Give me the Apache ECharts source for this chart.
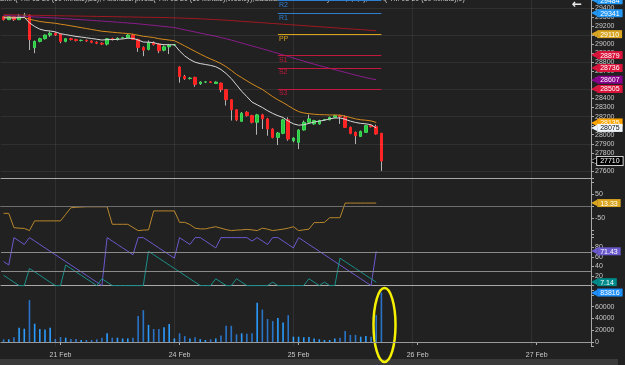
<!DOCTYPE html>
<html>
<head>
<meta charset="utf-8">
<script src="https://cdn.jsdelivr.net/npm/echarts@6/dist/echarts.min.js"></script>
<style>
html, body { margin: 0; padding: 0; background: #212121; }
#chart { width: 625px; height: 365px; }
</style>
</head>
<body>
<div id="chart"></div>
<script>
var FONT = 'Arial, "Liberation Sans", sans-serif';

// x axis: one slot per 60 minute bar, 23 bars per session
var SLOT_COUNT = 114;
var daySlots = [11, 34, 57, 80, 103];
var dayLabels = ['21 Feb', '24 Feb', '25 Feb', '26 Feb', '27 Feb'];
var sessionLineSlots = [10, 33, 56, 79, 102];

// candles (open, close, low, high)
var opens = [29303, 29270, 29303, 29270, 29315, 29320, 28960, 29030, 29060, 29100,
  29120, 29110, 29030, 29060, 29050, 29040, 29042, 29035, 29020, 29010,
  29000, 29060, 29050, 29070, 29070, 29100, 29052, 28963, 28941, 29015,
  29000, 28933, 28970, 28990, 28748, 28644, 28620, 28633, 28563, 28581,
  28583, 28565, 28570, 28497, 28386, 28275, 28148, 28248, 28211, 28137,
  28219, 28175, 28063, 27970, 28015, 28164, 27933, 27915, 28052, 28137,
  28119, 28119, 28164, 28164, 28192, 28211, 28192, 28081, 28026, 27981,
  28026, 28100, 28089, 28015];
var closes = [29270, 29303, 29270, 29310, 29320, 29050, 29030, 29060, 29100, 29120,
  29100, 29030, 29060, 29050, 29040, 29042, 29035, 29020, 29010, 29000,
  29060, 29050, 29065, 29072, 29100, 29052, 28963, 28933, 29015, 28995,
  28926, 28970, 28989, 28993, 28640, 28619, 28625, 28556, 28581, 28583,
  28577, 28581, 28497, 28386, 28275, 28164, 28237, 28211, 28137, 28219,
  28175, 28063, 27970, 28019, 28164, 27952, 27963, 28052, 28137, 28175,
  28156, 28156, 28168, 28192, 28211, 28200, 28081, 28015, 27989, 28037,
  28100, 28089, 28008, 27710];
var lows = [29260, 29265, 29255, 29265, 29300, 28935, 28900, 29020, 29050, 29080,
  29090, 29010, 29020, 29040, 29030, 29030, 29025, 29010, 29000, 28990,
  28985, 29040, 29040, 29060, 29065, 29045, 28915, 28867, 28930, 28985,
  28900, 28920, 28890, 28985, 28575, 28605, 28610, 28530, 28550, 28570,
  28570, 28560, 28470, 28322, 28156, 28150, 28140, 28200, 28125, 28000,
  28063, 27989, 27960, 27886, 28005, 27933, 27915, 27841, 28045, 28130,
  28110, 28110, 28155, 28160, 28185, 28119, 28075, 28005, 27897, 27975,
  28020, 28080, 28000, 27600];
var highs = [29310, 29308, 29308, 29333, 29345, 29325, 29040, 29070, 29105, 29140,
  29130, 29115, 29065, 29070, 29060, 29050, 29050, 29040, 29030, 29020,
  29065, 29070, 29075, 29080, 29110, 29110, 29060, 28975, 29040, 29030,
  29010, 28985, 29000, 29000, 28755, 28660, 28635, 28640, 28590, 28590,
  28590, 28590, 28575, 28500, 28390, 28280, 28250, 28260, 28220, 28230,
  28230, 28185, 28070, 28030, 28175, 28192, 27970, 28060, 28156, 28222,
  28165, 28165, 28175, 28200, 28220, 28220, 28211, 28090, 28035, 28045,
  28110, 28111, 28111, 28020];
var volumes = [4600, 4600, 8000, 24000, 22500, 71000, 31000, 22000, 21000, 24000,
  5000, 8500, 7300, 5000, 5000, 3400, 3400, 3400, 4600, 7300,
  14700, 7300, 7300, 6000, 6000, 7300, 44000, 54000, 29000, 22000,
  22000, 25000, 30500, 6000, 14700, 10000, 6000, 8000, 5000, 3400,
  4600, 6000, 11000, 27500, 27500, 13000, 14700, 14000, 15000, 66500,
  55000, 39000, 35500, 40500, 33000, 45500, 9000, 9000, 8000, 8500,
  6000, 4600, 3400, 3400, 6000, 7300, 18500, 12000, 12000, 9000,
  10000, 9000, 45500, 83816];

// indicator lines (last bar not yet calculated)
var ema9 = [29290, 29290, 29288, 29292, 29296, 29235, 29195, 29165, 29150, 29145,
  29135, 29115, 29105, 29095, 29085, 29078, 29070, 29062, 29054, 29045,
  29050, 29050, 29053, 29057, 29066, 29063, 29045, 29023, 29021, 29016,
  29000, 28994, 28993, 28993, 28925, 28870, 28830, 28800, 28785, 28775,
  28765, 28750, 28720, 28675, 28620, 28550, 28480, 28420, 28360, 28330,
  28300, 28265, 28235, 28210, 28190, 28150, 28120, 28105, 28110, 28125,
  28140, 28150, 28160, 28175, 28184, 28185, 28170, 28150, 28135, 28125,
  28120, 28110, 28075, null];
var ema21 = [29300, 29298, 29295, 29293, 29292, 29275, 29262, 29250, 29242, 29236,
  29230, 29220, 29212, 29202, 29192, 29182, 29172, 29162, 29152, 29142,
  29137, 29131, 29126, 29121, 29117, 29110, 29098, 29086, 29080, 29072,
  29060, 29052, 29045, 29038, 29010, 28980, 28950, 28920, 28890, 28862,
  28836, 28812, 28785, 28750, 28710, 28665, 28630, 28595, 28560, 28530,
  28500, 28460, 28420, 28385, 28355, 28320, 28285, 28255, 28240, 28232,
  28226, 28222, 28220, 28218, 28218, 28216, 28205, 28190, 28175, 28165,
  28160, 28152, 28135, null];
var maRed = [29325, 29324, 29323, 29322, 29321, 29319, 29318, 29317, 29316, 29315,
  29314, 29313, 29312, 29311, 29310, 29309, 29308, 29307, 29306, 29305,
  29304, 29303, 29302, 29301, 29300, 29299, 29298, 29297, 29296, 29295,
  29294, 29293, 29292, 29290, 29288, 29286, 29284, 29282, 29279, 29276,
  29273, 29270, 29267, 29264, 29260, 29256, 29252, 29248, 29244, 29240,
  29236, 29232, 29228, 29224, 29220, 29216, 29212, 29208, 29204, 29200,
  29196, 29192, 29188, 29184, 29180, 29176, 29172, 29168, 29164, 29160,
  29156, 29152, 29148, null];
var maPurple = [29315, 29313, 29311, 29309, 29307, 29304, 29300, 29297, 29294, 29291,
  29288, 29284, 29280, 29277, 29273, 29270, 29266, 29262, 29258, 29254,
  29250, 29246, 29242, 29238, 29233, 29229, 29224, 29218, 29213, 29207,
  29201, 29195, 29189, 29183, 29170, 29158, 29146, 29134, 29122, 29110,
  29098, 29086, 29073, 29059, 29044, 29028, 29012, 28996, 28980, 28964,
  28948, 28932, 28915, 28898, 28881, 28864, 28846, 28829, 28812, 28795,
  28779, 28763, 28748, 28733, 28718, 28703, 28688, 28673, 28658, 28644,
  28630, 28618, 28607, null];

// weekly fibonacci pivots, drawn over the last session
var pivotNames = ['R2', 'R1', 'PP', 'S1', 'S2', 'S3'];
var pivotValues = [29484, 29341, 29110, 28879, 28736, 28505];
var pivotColors = ['#2f7fd0', '#2f7fd0', '#d9a21b', '#c0183e', '#c0183e', '#c0183e'];
var pivotStartSlot = 53;
var pivotEndSlot = 73;

// second panel oscillator
var oscValues = [-29, -29, -88, -90, -91, -100, -60, -60, -60, -60,
  -60, -60, -33, -6, -4, -3, -2, -2, -2, -2,
  -2, -74, -74, -74, -74, -87, -100, -98, -97, -19,
  -19, -19, -19, -19, -66, -66, -75, -90, -93, -93,
  -88, -84, -90, -96, -100, -98, -97, -95, -97, -100,
  -90, -94, -100, -97, -94, -90, -84, -100, -97, -94,
  -67, -67, -66, -47, -47, -47, 13.33, 13.33, 13.33, 13.33,
  13.33, 13.33, 13.33, null];

// aroon (14)
var aroonDown = [50, 42.86, 100, 92.86, 85.71, 100, 92.86, 85.71, 78.57, 71.43,
  64.29, 57.14, 50, 42.86, 35.71, 28.57, 21.43, 14.29, 7.14, 0,
  100, 92.86, 85.71, 78.57, 71.43, 64.29, 100, 100, 92.86, 85.71,
  78.57, 71.43, 64.29, 57.14, 100, 92.86, 85.71, 100, 100, 92.86,
  85.71, 78.57, 100, 100, 100, 100, 100, 100, 92.86, 100,
  92.86, 85.71, 100, 100, 92.86, 85.71, 78.57, 100, 92.86, 85.71,
  78.57, 71.43, 64.29, 57.14, 50, 42.86, 35.71, 28.57, 21.43, 14.29,
  7.14, 0, 71.43, null];
var aroonUp = [21.43, 14.29, 7.14, 0, 0, 35.71, 28.57, 21.43, 14.29, 7.14,
  0, 0, 42.86, 35.71, 28.57, 21.43, 14.29, 7.14, 0, 14.29,
  7.14, 0, 0, 0, 0, 0, 0, 0, 71.43, 64.29,
  57.14, 50, 42.86, 35.71, 28.57, 21.43, 14.29, 7.14, 0, 0,
  0, 14.29, 7.14, 0, 0, 14.29, 7.14, 0, 0, 0,
  0, 0, 7.14, 0, 0, 0, 0, 0, 0, 14.29,
  7.14, 0, 7.14, 0, 0, 57.14, 50, 42.86, 35.71, 28.57,
  21.43, 14.29, 7.14, null];

// value tags on the right axis
var mainTagValues = [29484, 29341, 29110, 28879, 28736, 28607, 28505, 28135, 28075, 27710];
var mainTagBg = ['#2196f3', '#2196f3', '#daa520', '#dc143c', '#dc143c', '#8b008b', '#dc143c', '#ffa500', '#f0f6fb', '#000000'];
var mainTagFg = ['#fff', '#fff', '#fff', '#fff', '#fff', '#fff', '#fff', '#fff', '#111', '#fff'];
var faintPriceLines = [29400, 29100, 28800, 28500, 28200, 27900, 27600];

var categories = [];
for (var s = 0; s < SLOT_COUNT; s++) {
  var k = daySlots.indexOf(s);
  categories.push(k >= 0 ? dayLabels[k] : ' ' + s);
}

var bodies = [], wicks = [], volumeItems = [];
for (var i = 0; i < opens.length; i++) {
  var o = opens[i], c = closes[i];
  bodies.push([o, c, Math.min(o, c), Math.max(o, c)]);
  wicks.push([(o + c) / 2, (o + c) / 2, lows[i], highs[i]]);
  volumeItems.push({ value: volumes[i], itemStyle: { color: c >= o ? '#2b9cff' : '#2a74c8' } });
}

// right-axis price tag: a small left pointer plus a coloured box
function tag(value, text, bg, fg, border) {
  return {
    yAxis: value,
    lineStyle: { color: 'rgba(0,0,0,0)', width: 0 },
    label: {
      show: true, position: 'end', distance: 0, opacity: 1,
      formatter: '{a|\u25C0}{b|' + text + '}',
      rich: {
        a: { color: bg, fontSize: 8, fontFamily: '"DejaVu Sans"', lineHeight: 9,
          textBorderColor: border || 'transparent', textBorderWidth: border ? 1 : 0 },
        b: { backgroundColor: bg, color: fg, borderColor: border || bg, borderWidth: border ? 1 : 0,
          padding: [1, 3, 0, 3], fontSize: 7, lineHeight: 8, fontFamily: FONT }
      }
    }
  };
}

var faint = { color: 'rgba(255,255,255,0.07)', width: 1, type: 'solid' };
var gridMarks = [];
faintPriceLines.forEach(function (p) { gridMarks.push({ yAxis: p, lineStyle: faint }); });
sessionLineSlots.forEach(function (sl) { gridMarks.push({ xAxis: sl, lineStyle: faint }); });
function sessionMarks() {
  return sessionLineSlots.map(function (sl) { return { xAxis: sl, lineStyle: faint }; });
}

var mainTags = mainTagValues.map(function (v, j) {
  return tag(v, String(v), mainTagBg[j], mainTagFg[j], j === 9 ? '#d0d0d0' : null);
});
var pivotMarks = pivotValues.map(function (v, j) {
  return [
    { coord: [pivotStartSlot, v], name: pivotNames[j],
      lineStyle: { color: pivotColors[j], width: 1, type: 'solid', opacity: 1 },
      label: { show: true, position: 'insideStartBottom', formatter: '{b}', color: pivotColors[j],
        fontSize: 7, fontFamily: FONT, distance: 1 } },
    { coord: [pivotEndSlot, v] }
  ];
});

var baseMark = { symbol: ['none', 'none'], silent: true, animation: false, label: { show: false } };
function mark(data) { return Object.assign({}, baseMark, { data: data }); }

var grids = [
  { left: 1, width: 590, top: 0, height: 178 },
  { left: 1, width: 590, top: 178, height: 56 },
  { left: 1, width: 590, top: 234, height: 56 },
  { left: 1, width: 590, top: 290, height: 56 }
];
var axisGray = '#a8a8a8';
var xAxes = grids.map(function (g, gi) {
  var last = gi === 3;
  return {
    type: 'category', gridIndex: gi, data: categories, boundaryGap: true,
    axisLine: { show: true, lineStyle: { color: axisGray, width: 1 } },
    axisTick: { show: last, alignWithLabel: true, length: 3, lineStyle: { color: axisGray },
      interval: function (idx) { return daySlots.indexOf(idx) >= 0; } },
    axisLabel: { show: last, color: '#c8c8c8', fontSize: 7, fontFamily: FONT, margin: 6,
      interval: function (idx) { return daySlots.indexOf(idx) >= 0; } },
    splitLine: { show: false }
  };
});
function yAxis(gi, min, max, splitNumber, keep) {
  return {
    type: 'value', gridIndex: gi, position: 'right', min: min, max: max, splitNumber: splitNumber,
    axisLine: { show: true, lineStyle: { color: axisGray, width: 1 } },
    axisTick: { show: true, length: 3, lineStyle: { color: axisGray } },
    axisLabel: { show: true, color: '#c8c8c8', fontSize: 7, fontFamily: FONT, margin: 4,
      formatter: function (v) { return keep(v) ? String(v) : ''; } },
    splitLine: { show: false }
  };
}
var yAxes = [
  yAxis(0, 27522, 29487, 20, function (v) { return v % 100 === 0; }),
  yAxis(1, -114, 116.5, 5, function (v) { return v === 50 || v === -50; }),
  yAxis(2, -9.2, 107.5, 5, function (v) { return v === 20 || v === 40 || v === 60 || v === 80; }),
  yAxis(3, -6780, 88140, 5, function (v) { return v % 20000 === 0 && v >= 0 && v <= 60000; })
];

function lineSeries(name, data, color, gi, width, markData) {
  var sr = {
    name: name, type: 'line', data: data, xAxisIndex: gi, yAxisIndex: gi,
    showSymbol: false, symbol: 'none', animation: false, silent: true,
    lineStyle: { color: color, width: width || 1 }
  };
  if (markData) sr.markLine = mark(markData);
  return sr;
}

var option = {
  backgroundColor: '#212121',
  animation: false,
  grid: grids,
  xAxis: xAxes,
  yAxis: yAxes,
  series: [
    { name: 'wick', type: 'candlestick', data: wicks, xAxisIndex: 0, yAxisIndex: 0, barWidth: 1,
      silent: true, itemStyle: { color: '#b4b4b4', color0: '#b4b4b4', borderColor: '#b4b4b4', borderColor0: '#b4b4b4', borderWidth: 1 },
      markLine: mark(gridMarks) },
    { name: 'body', type: 'candlestick', data: bodies, xAxisIndex: 0, yAxisIndex: 0, barWidth: 3,
      silent: true, itemStyle: { color: '#27c93f', color0: '#ff2424', borderColor: '#3ed957', borderColor0: '#ff2424', borderWidth: 1 } },
    lineSeries('maRed', maRed, '#a01822', 0, 1),
    lineSeries('maPurple', maPurple, '#8a1c8a', 0, 1),
    lineSeries('ema21', ema21, '#d58a1c', 0, 1, pivotMarks),
    lineSeries('ema9', ema9, '#d8d8d8', 0, 1, mainTags),
    lineSeries('osc', oscValues, '#b8862b', 1, 1, sessionMarks().concat([
      { yAxis: 0, lineStyle: { color: '#6e6e6e', width: 1, type: 'solid' } },
      tag(13.33, '13.33', '#daa520', '#fff')
    ])),
    lineSeries('aroonDown', aroonDown, '#6a5acd', 2, 1, sessionMarks().concat([
      { yAxis: 70, lineStyle: { color: '#8a8a8a', width: 1, type: 'solid' } },
      { yAxis: 30, lineStyle: { color: '#8a8a8a', width: 1, type: 'solid' } },
      tag(71.43, '71.43', '#6a5acd', '#fff')
    ])),
    lineSeries('aroonUp', aroonUp, '#1a8f8a', 2, 1, [tag(7.14, '7.14', '#008b8b', '#fff')]),
    { name: 'volume', type: 'bar', data: volumeItems, xAxisIndex: 3, yAxisIndex: 3, barWidth: 1.6,
      silent: true, animation: false,
      markLine: mark(sessionMarks().concat([
        { yAxis: 0, lineStyle: { color: '#9a9a9a', width: 1, type: 'solid' } },
        tag(83816, '83816', '#1e90ff', '#fff')
      ])) }
  ],
  graphic: [
    { type: 'text', left: 0, top: -4, silent: true,
      style: { text: 'EMA( YM 03-20 (60 Minute),21), Fibonacci pivots( YM 03-20 (60 Minute),Weekly),Calculated from intraday data,0,0,0), EMA( YM 03-20 (60 Minute),9)',
        fill: '#cfcfcf', font: '7px ' + FONT } },
    { type: 'text', left: 572, top: -1, silent: true,
      style: { text: '\u2190', fill: '#e8e8e8', font: 'bold 12px "DejaVu Sans"' } },
    { type: 'rect', silent: true, shape: { x: 0, y: 359, width: 618, height: 6 },
      style: { fill: '#3a3a3a' } },
    { type: 'ellipse', silent: true, shape: { cx: 384.5, cy: 325, rx: 11, ry: 37 },
      style: { fill: 'none', stroke: '#f5f000', lineWidth: 2.5 } }
  ]
};

var chart = echarts.init(document.getElementById('chart'));
chart.setOption(option);
</script>
</body>
</html>
